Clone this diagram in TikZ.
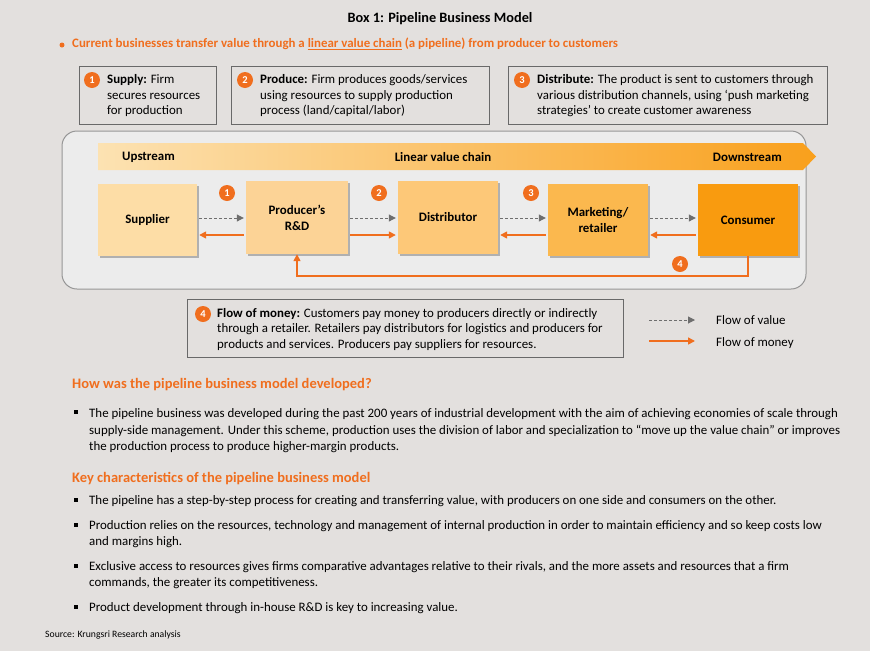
\documentclass[tikz,border=0pt]{standalone}
\usepackage{fontspec}
\setmainfont{Carlito}
\usetikzlibrary{shadows,arrows.meta}
\definecolor{bg}{RGB}{227,224,222}
\definecolor{panel}{RGB}{236,236,236}
\definecolor{panelbd}{RGB}{150,150,150}
\definecolor{org}{RGB}{240,110,30}
\definecolor{bdr}{RGB}{105,105,105}
\definecolor{valc}{RGB}{110,110,110}
\definecolor{cA}{RGB}{253,221,166}
\definecolor{cB}{RGB}{252,211,150}
\definecolor{cC}{RGB}{253,200,120}
\definecolor{cD}{RGB}{251,184,78}
\definecolor{cE}{RGB}{249,155,15}
\definecolor{banL}{RGB}{252,226,178}
\definecolor{banR}{RGB}{249,160,28}
\begin{document}
\begin{tikzpicture}[x=1pt,y=-1pt,
  num/.style={circle, fill=org, text=white, font=\bfseries\fontsize{10.5}{10.5}\selectfont, inner sep=0pt, minimum size=16pt},
  infobox/.style={draw=bdr, line width=1.3pt, fill=bg, anchor=north west, inner sep=0pt},
  itext/.style={anchor=north west, align=left, inner sep=0pt, font=\fontsize{12.9}{15.5}\selectfont},
  stage/.style={minimum width=100pt, minimum height=72pt, inner sep=0pt, align=center,
    font=\bfseries\fontsize{12.9}{16}\selectfont,
    drop shadow={shadow xshift=1.5pt, shadow yshift=-1.5pt, opacity=0.25, fill=black}},
  valarr/.style={draw=valc, line width=1pt, dash pattern=on 3pt off 2pt, -{Triangle[length=7pt,width=7pt,fill=valc]}},
  monarr/.style={draw=org, line width=1.5pt, -{Triangle[length=7pt,width=7pt,fill=org]}},
  head/.style={anchor=west, inner sep=0pt, text=org, font=\bfseries\fontsize{14.5}{16}\selectfont},
  body/.style={anchor=north west, align=left, inner sep=0pt, font=\fontsize{12.9}{16.5}\selectfont},
  lbl/.style={inner sep=0pt, font=\bfseries\fontsize{12.9}{14}\selectfont},
  bul/.style={fill=black, inner sep=0pt, minimum size=3.5pt}
]
\useasboundingbox[fill=bg] (0,0) rectangle (870,651);

% title
\node[font=\bfseries\fontsize{14.3}{16}\selectfont] (title) at (440,19) {Box 1: Pipeline Business Model};
\node[circle, fill=org, inner sep=0pt, minimum size=5pt] (dot) at (62,45) {};
\node[anchor=west, inner sep=0pt, text=org, font=\bfseries\fontsize{12.9}{14}\selectfont] (lead) at (72,44)
  {Current businesses transfer value through a \underline{linear value chain} (a pipeline) from producer to customers};

% top info boxes
\node[infobox, minimum width=137pt, minimum height=58pt] (b1) at (79,66) {};
\node[infobox, minimum width=258pt, minimum height=58pt] (b2) at (231,66) {};
\node[infobox, minimum width=319pt, minimum height=58pt] (b3) at (508,66) {};
\node[num] (n1) at (92,80) {1};
\node[num] (n2) at (245,80) {2};
\node[num] (n3) at (522,80) {3};
\node[itext] (t1) at (107,74.5) {\textbf{Supply:} Firm\\secures resources\\for production};
\node[itext] (t2) at (260,74.5) {\textbf{Produce:} Firm produces goods/services\\using resources to supply production\\process (land/capital/labor)};
\node[itext] (t3) at (537,74.5) {\textbf{Distribute:} The product is sent to customers through\\various distribution channels, using ‘push marketing\\strategies’ to create customer awareness};

% panel
\draw[draw=panelbd, line width=1pt, fill=panel, rounded corners=15pt] (62,131) rectangle (806,289);
\shade[left color=banL, right color=banR] (98,143) -- (803,143) -- (816,156.5) -- (803,170) -- (98,170) -- cycle;
\node[lbl, anchor=west] (up) at (122,157) {Upstream};
\node[lbl] (lvc) at (443,157) {Linear value chain};
\node[lbl, anchor=east] (down) at (782,157) {Downstream};

% stages
\node[stage, fill=cA, minimum width=99pt] (sup) at (147.5,220) {Supplier};
\node[stage, fill=cB, minimum width=102pt, minimum height=73pt] (pro) at (297,217.5) {Producer’s\\R\&D};
\node[stage, fill=cC, minimum height=73pt] (dis) at (448,217.5) {Distributor};
\node[stage, fill=cD] (mar) at (598,220) {Marketing/\\retailer};
\node[stage, fill=cE] (con) at (748,220) {Consumer};

\coordinate (yv) at (0,218);
\coordinate (ym) at (0,235);
\draw[valarr] ([xshift=2pt]sup.east |- yv) -- ([xshift=-2pt]pro.west |- yv);
\draw[monarr] ([xshift=-2pt]pro.west |- ym) -- ([xshift=2pt]sup.east |- ym);
\draw[valarr] ([xshift=2pt]pro.east |- yv) -- ([xshift=-2pt]dis.west |- yv);
\draw[monarr] ([xshift=2pt]pro.east |- ym) -- ([xshift=-2pt]dis.west |- ym);
\draw[valarr] ([xshift=2pt]dis.east |- yv) -- ([xshift=-2pt]mar.west |- yv);
\draw[monarr] ([xshift=-2pt]mar.west |- ym) -- ([xshift=2pt]dis.east |- ym);
\draw[valarr] ([xshift=2pt]mar.east |- yv) -- ([xshift=-2pt]con.west |- yv);
\draw[monarr] ([xshift=-2pt]con.west |- ym) -- ([xshift=2pt]mar.east |- ym);
\draw[monarr] (con.south) -- ++(0,20) -| (pro.south);

\node[num] (c1) at (227,193) {1};
\node[num] (c2) at (379,193) {2};
\node[num] (c3) at (531,193) {3};
\node[num] (c4) at (680,264) {4};

% flow of money box
\node[infobox, minimum width=436pt, minimum height=58pt] (b4) at (187,299) {};
\node[num] (n4) at (203,314) {4};
\node[itext] (t4) at (217,308) {\textbf{Flow of money:} Customers pay money to producers directly or indirectly\\through a retailer. Retailers pay distributors for logistics and producers for\\products and services. Producers pay suppliers for resources.};

% legend
\coordinate (lv1) at (649,320);
\coordinate (lv2) at (695,320);
\coordinate (lm1) at (649,341);
\coordinate (lm2) at (695,341);
\draw[valarr] (lv1) -- (lv2);
\draw[monarr] (lm1) -- (lm2);
\node[anchor=west, inner sep=0pt, font=\fontsize{12.9}{14}\selectfont] (lgv) at (716,320) {Flow of value};
\node[anchor=west, inner sep=0pt, font=\fontsize{12.9}{14}\selectfont] (lgm) at (716,343) {Flow of money};

% text section
\node[head] (h1) at (72,385) {How was the pipeline business model developed?};
\node[bul] (p1b) at (76,412) {};
\node[body] (p1) at (89,408.5) {The pipeline business was developed during the past 200 years of industrial development with the aim of achieving economies of scale through\\supply-side management. Under this scheme, production uses the division of labor and specialization to “move up the value chain” or improves\\the production process to produce higher-margin products.};

\node[head] (h2) at (72,479) {Key characteristics of the pipeline business model};
\node[bul] (q1b) at (76,500) {};
\node[body] (q1) at (89,495) {The pipeline has a step-by-step process for creating and transferring value, with producers on one side and consumers on the other.};
\node[bul] (q2b) at (76,525) {};
\node[body] (q2) at (89,520) {Production relies on the resources, technology and management of internal production in order to maintain efficiency and so keep costs low\\and margins high.};
\node[bul] (q3b) at (76,566) {};
\node[body] (q3) at (89,561) {Exclusive access to resources gives firms comparative advantages relative to their rivals, and the more assets and resources that a firm\\commands, the greater its competitiveness.};
\node[bul] (q4b) at (76,607) {};
\node[body] (q4) at (89,602) {Product development through in-house R\&D is key to increasing value.};

\node[anchor=west, inner sep=0pt, font=\fontsize{9.7}{11}\selectfont] (src) at (45,635) {Source: Krungsri Research analysis};
\end{tikzpicture}
\end{document}
